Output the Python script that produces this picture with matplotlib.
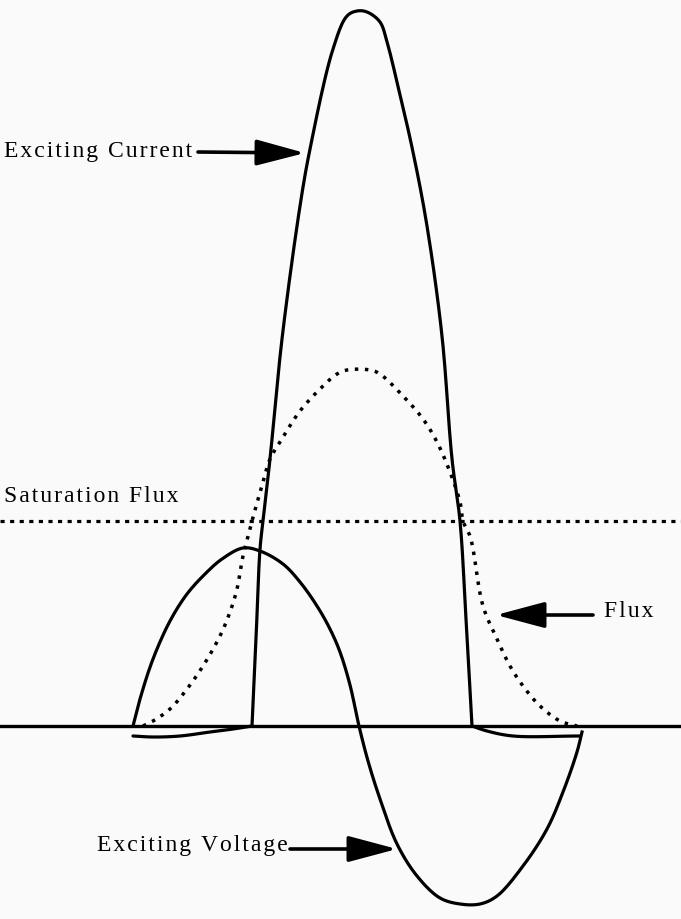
import matplotlib
matplotlib.use("Agg")
import numpy as np
from matplotlib import pyplot as plt

# curves (x to the right, y downward, in pixels)
voltage_x = [133, 140, 153, 170, 187, 205, 222, 243, 260, 283, 300, 317, 330, 340, 350,
             359, 368, 380, 397, 417, 440, 460, 480, 497, 523, 547, 563, 577, 582]
voltage_y = [727, 700, 660, 622, 595, 575, 560, 549, 552, 565, 583, 607, 630, 653, 686,
             727, 762, 800, 845, 877, 899, 905, 905, 897, 867, 830, 793, 753, 733]

current_x = [133, 153, 180, 210, 233, 252, 256, 260, 263, 270, 282, 300, 310, 333, 347,
             357, 367, 380, 387, 397, 413, 427, 442, 452, 460, 466, 472, 487, 513, 580]
current_y = [737, 738, 737, 733, 730, 727, 640, 550, 522, 460, 340, 207, 150, 50, 17,
             12, 13, 23, 43, 83, 153, 227, 337, 460, 522, 620, 727, 732, 737, 737]
current_corners = [5, 26]

flux_x = [143, 153, 170, 187, 203, 220, 230, 237, 243, 250, 252, 263, 270, 280, 300,
          320, 337, 347, 370, 380, 403, 423, 437, 450, 460, 463, 470, 473, 483, 497,
          510, 523, 540, 560, 577]
flux_y = [727, 722, 710, 690, 667, 637, 613, 590, 557, 530, 522, 483, 460, 443, 412,
          390, 375, 371, 371, 375, 397, 420, 443, 473, 503, 522, 537, 550, 607, 640,
          667, 687, 707, 722, 727]

baseline_y = 727
saturation_y = 522

# labels: text, text position, arrow tail, arrow tip
labels = ["Exciting Current", "Saturation Flux", "Flux", "Exciting Voltage"]
label_pos = [(4, 152), (4, 497), (604, 612), (97, 846)]
arrow_tail = [(198, 153), None, (593, 616), (290, 850)]
arrow_tip = [(305, 154), None, (496, 616), (397, 850)]


def smooth(xs, ys, n=12):
    # centripetal catmull-rom through the read points, only for drawing
    p = np.column_stack([xs, ys]).astype(float)
    if len(p) < 3:
        return p[:, 0], p[:, 1]
    p = np.vstack([2 * p[0] - p[1], p, 2 * p[-1] - p[-2]])
    out = []
    for i in range(1, len(p) - 2):
        p0, p1, p2, p3 = p[i - 1], p[i], p[i + 1], p[i + 2]
        t0 = 0.0
        t1 = t0 + np.linalg.norm(p1 - p0) ** 0.5 + 1e-9
        t2 = t1 + np.linalg.norm(p2 - p1) ** 0.5 + 1e-9
        t3 = t2 + np.linalg.norm(p3 - p2) ** 0.5 + 1e-9
        t = np.linspace(t1, t2, n, endpoint=False)[:, None]
        a1 = (t1 - t) / (t1 - t0) * p0 + (t - t0) / (t1 - t0) * p1
        a2 = (t2 - t) / (t2 - t1) * p1 + (t - t1) / (t2 - t1) * p2
        a3 = (t3 - t) / (t3 - t2) * p2 + (t - t2) / (t3 - t2) * p3
        b1 = (t2 - t) / (t2 - t0) * a1 + (t - t0) / (t2 - t0) * a2
        b2 = (t3 - t) / (t3 - t1) * a2 + (t - t1) / (t3 - t1) * a3
        out.append((t2 - t) / (t2 - t1) * b1 + (t - t1) / (t2 - t1) * b2)
    out.append(p[-2][None, :])
    out = np.vstack(out)
    return out[:, 0], out[:, 1]


def spaced(s):
    # the original lettering is spread out
    return "\u200a".join(s)


fig = plt.figure(figsize=(6.81, 9.20), dpi=100)
fig.patch.set_facecolor("#fafafa")
ax = fig.add_axes([0, 0, 1, 1])
ax.set_facecolor("#fafafa")
ax.set_xlim(0, 681)
ax.set_ylim(920, 0)
ax.axis("off")

ax.axhline(baseline_y, color="black", lw=2.4)
ax.axhline(saturation_y, color="black", lw=2.3, ls=(0, (1.3, 1.7)))

vx, vy = smooth(voltage_x, voltage_y)
ax.plot(vx, vy, color="black", lw=2.3, solid_joinstyle="round")

cuts = [0] + current_corners + [len(current_x) - 1]
for a, b in zip(cuts[:-1], cuts[1:]):
    cx, cy = smooth(current_x[a:b + 1], current_y[a:b + 1])
    ax.plot(cx, cy, color="black", lw=2.3, solid_joinstyle="round",
            solid_capstyle="round")

fx, fy = smooth(flux_x, flux_y)
ax.plot(fx, fy, color="black", lw=2.5, ls=(0, (1.0, 1.9)))

for text, pos, tail, tip in zip(labels, label_pos, arrow_tail, arrow_tip):
    ax.text(pos[0], pos[1], spaced(text), family="Liberation Serif", fontsize=17,
            ha="left", va="center")
    if tail is not None:
        ax.annotate("", xy=tip, xytext=tail,
                    arrowprops=dict(arrowstyle="-|>,head_length=1.5,head_width=0.4",
                                    lw=2.6, color="black", mutation_scale=20,
                                    shrinkA=0, shrinkB=0))

fig.savefig("out.png", dpi=100, facecolor=fig.get_facecolor())
